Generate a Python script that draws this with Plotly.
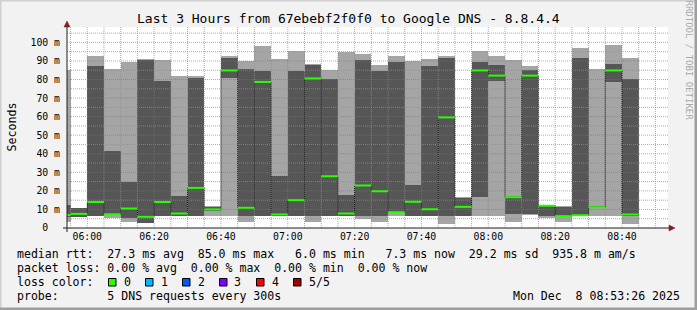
import plotly.graph_objects as go
import pandas as pd

# ---------------- data ----------------
DAY = "2025-12-08"
bar_start = ["05:50", "05:55", "06:00", "06:05", "06:10", "06:15", "06:20", "06:25",
             "06:30", "06:35", "06:40", "06:45", "06:50", "06:55", "07:00", "07:05",
             "07:10", "07:15", "07:20", "07:25", "07:30", "07:35", "07:40", "07:45",
             "07:50", "07:55", "08:00", "08:05", "08:10", "08:15", "08:20", "08:25",
             "08:30", "08:35", "08:40"]
# five pings per step, sorted: min, 2nd, median, 4th, max (ms)
ping_min = [3.1, 6.0, 6.5, 5.6, 3.1, 2.8, 6.2, 6.2, 6.2, 6.4, 6.4, 3.1, 6.2, 6.2, 6.2, 3.1,
            6.2, 6.2, 4.9, 3.1, 6.4, 6.2, 6.2, 2.4, 6.2, 6.7, 6.4, 3.1, 7.0, 5.5, 3.1, 6.2,
            6.4, 6.4, 2.4]
ping_lo = [6.0, 6.0, 6.7, 7.0, 5.5, 2.8, 6.4, 6.4, 6.4, 9.3, 80.8, 6.4, 6.4, 6.4, 6.4, 6.4,
           6.4, 6.7, 6.4, 6.4, 8.0, 6.7, 6.4, 6.4, 6.4, 16.6, 79.4, 7.3, 7.5, 6.4, 5.8, 6.6,
           10.9, 78.5, 6.6]
median_rtt = [7.0, 7.6, 14.0, 7.4, 10.5, 6.0, 14.0, 7.8, 21.6, 10.0, 84.9, 10.9, 78.7, 7.3,
              15.0, 80.6, 27.9, 7.8, 22.9, 19.8, 8.5, 14.1, 10.1, 59.6, 11.4, 84.9, 82.1,
              16.6, 82.1, 12.0, 6.4, 6.9, 11.2, 84.9, 7.3]
ping_hi = [12.6, 10.9, 87.5, 41.7, 24.7, 90.7, 79.4, 17.5, 81.0, 11.2, 91.6, 85.7, 84.8, 27.9,
           84.4, 87.8, 80.3, 18.0, 90.7, 84.4, 89.2, 23.4, 87.5, 91.6, 16.2, 89.2, 88.0, 17.5,
           85.3, 12.3, 11.4, 91.6, 11.6, 88.5, 80.3]
ping_max = [84.9, 10.9, 92.8, 85.8, 89.2, 90.9, 90.7, 82.1, 82.0, 12.1, 92.8, 90.2, 97.8, 91.2,
            95.5, 88.4, 85.3, 94.8, 93.9, 88.0, 92.8, 90.2, 91.2, 92.8, 16.6, 95.5, 92.8, 90.7,
            87.1, 12.6, 11.6, 97.0, 85.8, 98.6, 91.6]

x_ticks = ["06:00", "06:20", "06:40", "07:00", "07:20", "07:40", "08:00", "08:20", "08:40"]
y_ticks = [0, 10, 20, 30, 40, 50, 60, 70, 80, 90, 100]
y_ticklabels = ["0\u00a0\u00a0", "10 m", "20 m", "30 m", "40 m", "50 m", "60 m", "70 m",
                "80 m", "90 m", "100 m"]
loss_labels = ["0", "1", "2", "3", "4", "5/5"]
loss_colors = ["#26ff00", "#00b8ff", "#0059ff", "#7e00ff", "#ff0000", "#a10000"]

title_text = "Last 3 Hours from 67ebebf2f0f0 to Google DNS - 8.8.4.4"
stat_rtt = "median rtt:  27.3 ms avg  85.0 ms max   6.0 ms min   7.3 ms now  29.2 ms sd  935.8 m am/s"
stat_loss = "packet loss: 0.00 % avg  0.00 % max  0.00 % min  0.00 % now"
loss_title = "loss color:"
probe_text = "probe:       5 DNS requests every 300s"
date_text = "Mon Dec  8 08:53:26 2025"
watermark = "RRDTOOL / TOBI OETIKER"

# ---------------- layout constants ----------------
W, H = 697, 310
PL, PR, PT, PB = 67, 668, 27, 228
X_RANGE = [f"{DAY} 05:53:56", f"{DAY} 08:53:46"]
Y_MAX = 108.3
LIGHT = "#a5a5a5"
DARK = "#565656"
MONO = "DejaVu Sans Mono"


def fx(px):
    return (px - PL) / (PR - PL)


def fy(py):
    return (PB - py) / (PB - PT)


def nb(s):
    return s.replace(" ", "\u00a0")


STEP = pd.Timedelta(minutes=5)
starts = pd.to_datetime([f"{DAY} {s}" for s in bar_start])
centers = starts + STEP / 2
ends = starts + STEP

fig = go.Figure()

# grid (below the smoke)
grid_times = pd.date_range(f"{DAY} 05:55", f"{DAY} 08:50", freq="5min")
major_times = pd.to_datetime([f"{DAY} {t}" for t in x_ticks])
gx_min, gy_min, gx_maj, gy_maj = [], [], [], []
for t in grid_times:
    if t in major_times:
        gx_maj += [t, t, None]
        gy_maj += [0, Y_MAX, None]
    else:
        gx_min += [t, t, None]
        gy_min += [0, Y_MAX, None]
hx_min, hy_min, hx_maj, hy_maj = [], [], [], []
for v in range(5, 110, 5):
    if v % 10 == 0:
        hx_maj += [X_RANGE[0], X_RANGE[1], None]
        hy_maj += [v, v, None]
    else:
        hx_min += [X_RANGE[0], X_RANGE[1], None]
        hy_min += [v, v, None]
MINOR = "rgba(143,143,143,0.75)"
MAJOR = "rgba(222,79,79,0.6)"
for gx, gy, col in [(gx_min, gy_min, MINOR), (hx_min, hy_min, MINOR),
                    (gx_maj, gy_maj, MAJOR), (hx_maj, hy_maj, MAJOR)]:
    fig.add_trace(go.Scatter(x=gx, y=gy, mode="lines", line=dict(color=col, width=1, dash="1px,1px"),
                             hoverinfo="skip", connectgaps=False))

# smoke: outer (min..max) light, inner (2nd..4th) dark
fig.add_trace(go.Bar(x=centers, y=[b - a for a, b in zip(ping_min, ping_max)], base=ping_min,
                     width=STEP.total_seconds() * 1000, marker=dict(color=LIGHT, line=dict(width=0)),
                     hoverinfo="skip"))
fig.add_trace(go.Bar(x=centers, y=[b - a for a, b in zip(ping_lo, ping_hi)], base=ping_lo,
                     width=STEP.total_seconds() * 1000, marker=dict(color=DARK, line=dict(width=0)),
                     hoverinfo="skip"))

# median step line (dark dotted connector)
fig.add_trace(go.Scatter(x=list(starts) + [ends[-1]], y=median_rtt + [median_rtt[-1]],
                         mode="lines", line=dict(color="#101010", width=1, shape="hv", dash="1px,1px"),
                         hoverinfo="skip"))

# median (loss colour 0)
mx, my = [], []
for s, e, m in zip(starts, ends, median_rtt):
    mx += [s, e, None]
    my += [m, m, None]
fig.add_trace(go.Scatter(x=mx, y=my, mode="lines", line=dict(color=loss_colors[0], width=2),
                         hoverinfo="skip", connectgaps=False))

shapes = []
# 3D frame
shapes.append(dict(type="rect", xref="paper", yref="paper", x0=fx(0), x1=fx(W), y0=fy(0), y1=fy(1.5),
                   fillcolor="#cfcfcf", line=dict(width=0), layer="above"))
shapes.append(dict(type="rect", xref="paper", yref="paper", x0=fx(0), x1=fx(1.5), y0=fy(0), y1=fy(H),
                   fillcolor="#cfcfcf", line=dict(width=0), layer="above"))
shapes.append(dict(type="rect", xref="paper", yref="paper", x0=fx(0), x1=fx(W), y0=fy(H - 2.5), y1=fy(H),
                   fillcolor="#9e9e9e", line=dict(width=0), layer="above"))
shapes.append(dict(type="rect", xref="paper", yref="paper", x0=fx(W - 2.5), x1=fx(W), y0=fy(0), y1=fy(H),
                   fillcolor="#9e9e9e", line=dict(width=0), layer="above"))
# axes
shapes.append(dict(type="line", xref="paper", yref="paper", x0=fx(63), x1=fx(670), y0=0, y1=0,
                   line=dict(color="#1f1f1f", width=1), layer="above"))
shapes.append(dict(type="line", xref="paper", yref="paper", x0=0, x1=0, y0=fy(232), y1=fy(24),
                   line=dict(color="#1f1f1f", width=1), layer="above"))
# arrows
shapes.append(dict(type="path", xref="paper", yref="paper",
                   path=f"M {fx(669)} {fy(225)} L {fx(675)} {fy(228)} L {fx(669)} {fy(231)} Z",
                   fillcolor="#801f1f", line=dict(color="#801f1f", width=0.5), layer="above"))
shapes.append(dict(type="path", xref="paper", yref="paper",
                   path=f"M {fx(64)} {fy(27)} L {fx(67)} {fy(21)} L {fx(70)} {fy(27)} Z",
                   fillcolor="#801f1f", line=dict(color="#801f1f", width=0.5), layer="above"))
# loss colour boxes
for k, (lab, col) in enumerate(zip(loss_labels, loss_colors)):
    x0 = 108.5 + 37 * k
    shapes.append(dict(type="rect", xref="paper", yref="paper", x0=fx(x0), x1=fx(x0 + 7.5),
                       y0=fy(286), y1=fy(278.5), fillcolor=col, line=dict(color="#000000", width=1),
                       layer="above"))

ann = []


def text(s, px, py, size, xanchor="left", color="#000000", angle=0):
    ann.append(dict(text=nb(s), x=fx(px), y=fy(py), xref="paper", yref="paper", showarrow=False,
                    xanchor=xanchor, yanchor="middle", textangle=angle, borderpad=0,
                    font=dict(family=MONO, size=size, color=color)))


text(title_text, 348, 19, 13, xanchor="center")
text("Seconds", 11, 127.5, 11.6, xanchor="center", angle=-90)
text(watermark, 688.5, 60, 9, xanchor="center", color="#ababab", angle=90)
text(stat_rtt, 16, 254.3, 11.55)
text(stat_loss, 16, 268.3, 11.55)
text(loss_title, 16, 282.3, 11.55)
for k, lab in enumerate(loss_labels):
    text(lab, 122.5 + 37 * k, 282.3, 11.55)
text(probe_text, 16, 296.2, 11.55)
text(date_text, 681, 296.2, 11.55, xanchor="right")

fig.update_layout(
    width=W, height=H, autosize=False,
    margin=dict(l=PL, r=W - PR, t=PT, b=H - PB, pad=0),
    paper_bgcolor="#f2f2f2", plot_bgcolor="#ffffff",
    barmode="overlay", bargap=0, showlegend=False,
    shapes=shapes, annotations=ann,
    xaxis=dict(type="date", range=X_RANGE, showgrid=False, zeroline=False, showline=False,
               tickmode="array", tickvals=[f"{DAY} {t}" for t in x_ticks], ticktext=x_ticks,
               ticks="", tickfont=dict(family=MONO, size=9.8, color="#000000"), fixedrange=True,
               ticklabelstandoff=1),
    yaxis=dict(range=[0, Y_MAX], showgrid=False, zeroline=False, showline=False,
               tickmode="array", tickvals=y_ticks, ticktext=y_ticklabels, ticks="",
               tickfont=dict(family=MONO, size=9.8, color="#000000"), fixedrange=True,
               ticklabelstandoff=6),
)

fig.write_html("out.html")
